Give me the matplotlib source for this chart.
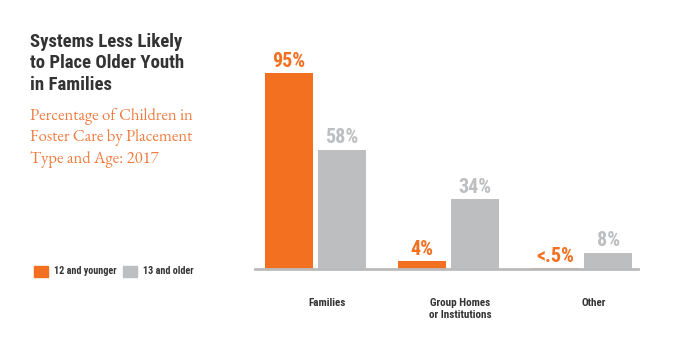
import matplotlib
matplotlib.use("Agg")
import matplotlib.pyplot as plt
import numpy as np

# data
categories = ["Families", "Group Homes\nor Institutions", "Other"]
young_vals = [95, 4, 0.5]
old_vals = [58, 34, 8]
young_labels = ["95%", "4%", "<.5%"]
old_labels = ["58%", "34%", "8%"]
series_names = ["12 and younger", "13 and older"]

ORANGE = "#F37021"
GREY = "#BDBEC0"
DARK = "#333333"
SUB = "#F07B3F"
COND = ["Roboto Condensed", "DejaVu Sans"]
SERIF = ["EB Garamond", "Liberation Serif", "DejaVu Serif"]

fig = plt.figure(figsize=(6.78, 3.55), dpi=100)
ax = fig.add_axes([255 / 678, (355 - 269) / 355, 383 / 678, 206 / 355])

x = np.arange(len(categories))
w = 0.36
off = 0.2
ax.bar(x - off, young_vals, w, color=ORANGE)
ax.bar(x + off, old_vals, w, color=GREY)

for xi, v, lab in zip(x, young_vals, young_labels):
    ax.text(xi - off, v + 3, lab, ha="center", va="baseline", color=ORANGE,
            fontsize=14.5, fontweight="bold", family=COND)
for xi, v, lab in zip(x, old_vals, old_labels):
    ax.text(xi + off, v + 3, lab, ha="center", va="baseline", color=GREY,
            fontsize=14.5, fontweight="bold", family=COND)

for xi, cat in zip(x, categories):
    ax.text(xi + 0.09, -14, cat, ha="center", va="top", color=DARK,
            fontsize=8, fontweight="bold", family=COND, linespacing=1.3,
            clip_on=False)

ax.set_xlim(-0.455, 2.425)
ax.set_ylim(0, 100)
ax.axhline(0, color="#BBBBBB", lw=2, clip_on=False)
for s in ax.spines.values():
    s.set_visible(False)
ax.set_xticks([])
ax.set_yticks([])

# title block
fig.text(30 / 678, 1 - 33 / 355, "Systems Less Likely\nto Place Older Youth\nin Families",
         ha="left", va="top", color=DARK, fontsize=13.5, fontweight="bold",
         family=COND, linespacing=1.25)
fig.text(30 / 678, 1 - 108 / 355, "Percentage of Children in\nFoster Care by Placement\nType and Age: 2017",
         ha="left", va="top", color=SUB, fontsize=12, family=SERIF,
         linespacing=1.38)

# legend
fig.patches.append(plt.Rectangle((34 / 678, 1 - 277 / 355), 14 / 678, 11 / 355,
                                 transform=fig.transFigure, color=ORANGE))
fig.patches.append(plt.Rectangle((123 / 678, 1 - 277 / 355), 14 / 678, 11 / 355,
                                 transform=fig.transFigure, color=GREY))
fig.text(54 / 678, 1 - 271.5 / 355, series_names[0], ha="left", va="center",
         color=DARK, fontsize=7.3, fontweight="bold", family=COND)
fig.text(143 / 678, 1 - 271.5 / 355, series_names[1], ha="left", va="center",
         color=DARK, fontsize=7.3, fontweight="bold", family=COND)

fig.savefig("out.png", dpi=100)
